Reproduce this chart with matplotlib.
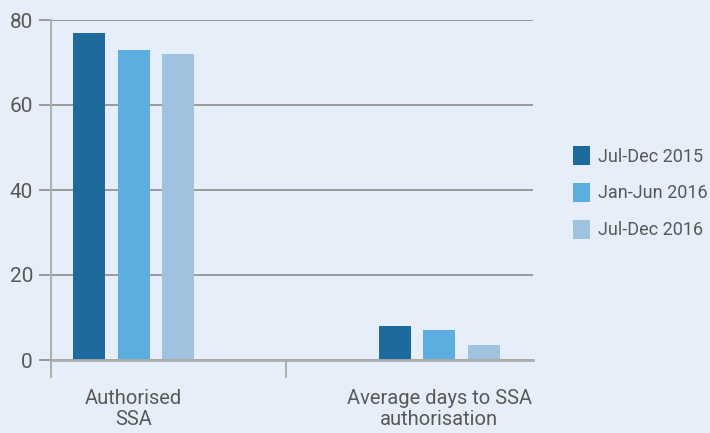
import matplotlib
matplotlib.use("Agg")
import matplotlib.pyplot as plt
import numpy as np

categories = ["Authorised\nSSA", "Average days to SSA\nauthorisation"]
series_names = ["Jul-Dec 2015", "Jan-Jun 2016", "Jul-Dec 2016"]
values_jul_dec_2015 = [77, 8]
values_jan_jun_2016 = [73, 7]
values_jul_dec_2016 = [72, 3.5]
colors = ["#1d6a9e", "#5daee0", "#9fc2df"]
yticks = [0, 20, 40, 60, 80]

plt.rcParams['font.family'] = ['Roboto', 'DejaVu Sans']
bg = "#e6eff9"
txt = "#58585a"

fig = plt.figure(figsize=(7.1, 4.33), dpi=100, facecolor=bg)
ax = fig.add_axes([51/710, (433-360)/433, (533-51)/710, (360-20)/433])
ax.set_facecolor(bg)

x = np.arange(len(categories))
width = 0.105
offsets = [-0.145, 0, 0.145]
for vals, name, c, off in zip([values_jul_dec_2015, values_jan_jun_2016, values_jul_dec_2016],
                              series_names, colors, offsets):
    ax.bar(x + off, vals, width=width, color=c, label=name, zorder=3)

ax.set_xlim(-0.27, 1.306)
ax.set_ylim(0, 80)
ax.set_yticks(yticks)
ax.set_yticklabels([str(v) for v in yticks], fontsize=15, color=txt)
ax.yaxis.grid(True, color="#8c8c8c", linewidth=1.2, zorder=0)
ax.tick_params(axis='y', length=9, width=1.2, color="#8c8c8c", pad=4)

ax.set_xticks([-0.27, 0.5])
ax.set_xticklabels(["", ""])
ax.tick_params(axis='x', which='major', length=13, width=1.5, color="#b0b0b0")
ax.set_xticks(x, minor=True)
ax.set_xticklabels(categories, minor=True, fontsize=14.5, color=txt, linespacing=1.15)
ax.tick_params(axis='x', which='minor', length=0, pad=21)

for s in ['top', 'right', 'left']:
    ax.spines[s].set_visible(False)
ax.spines['bottom'].set_color("#acacac")
ax.spines['bottom'].set_linewidth(2)
ax.spines['bottom'].set_zorder(4)
ax.plot([-0.27, -0.27], [0, 80], color="#b0b0b0", linewidth=1.5, zorder=4, clip_on=False)

leg = ax.legend(loc='upper left', bbox_to_anchor=(573/710, (433-146)/433), bbox_transform=fig.transFigure,
                frameon=False, fontsize=13, handlelength=0.95, handleheight=1.25,
                handletextpad=0.45, labelspacing=0.95, borderaxespad=0, borderpad=0)
for t in leg.get_texts():
    t.set_color(txt)

fig.savefig("out.png", dpi=100, facecolor=bg)
